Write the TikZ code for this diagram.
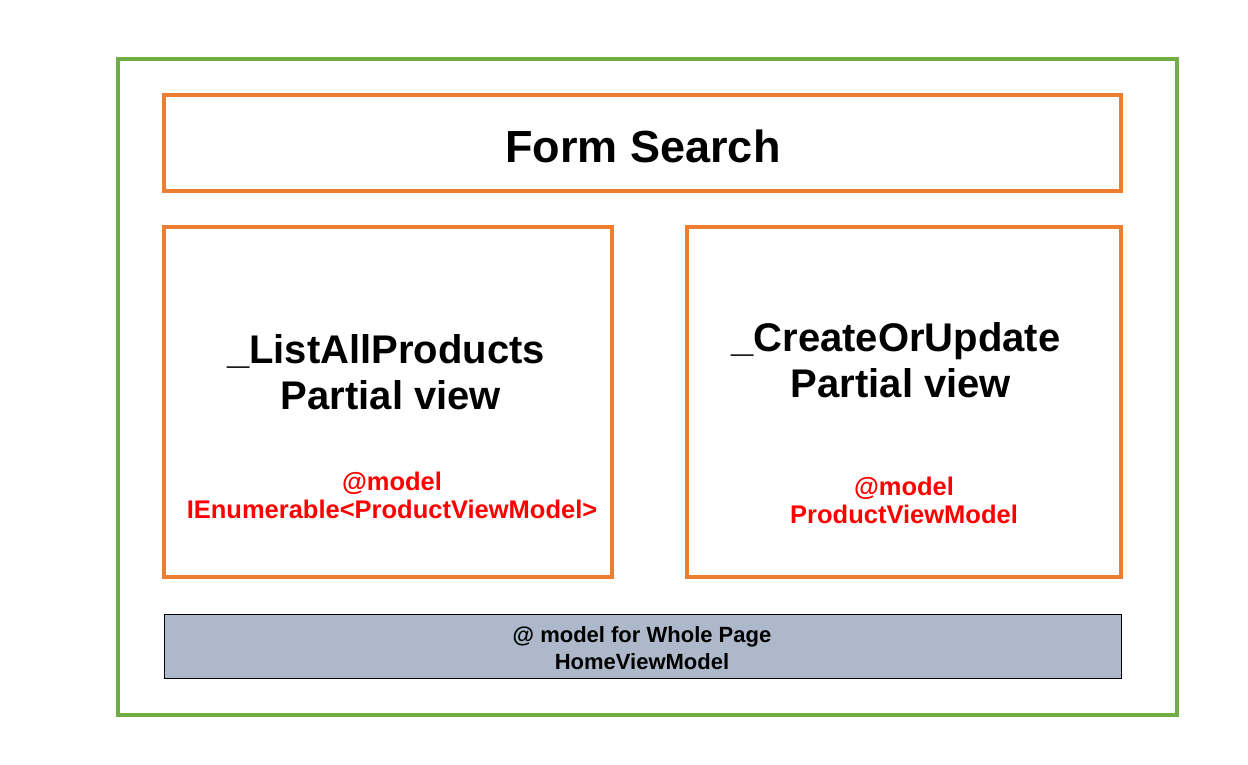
\documentclass[tikz,border=0pt]{standalone}
\usepackage{fontspec}
\setmainfont{Liberation Sans}
\definecolor{frameGreen}{RGB}{112,173,71}
\definecolor{boxOrange}{RGB}{237,125,49}
\definecolor{modelGray}{RGB}{173,185,202}
\definecolor{modelRed}{RGB}{255,0,0}
\tikzset{
  viewbox/.style={draw=boxOrange,line width=4},
  titletext/.style={inner sep=0,align=center,font=\bfseries\fontsize{40}{46}\selectfont},
  modeltext/.style={inner sep=0,align=center,text=modelRed,font=\bfseries\fontsize{25.5}{28}\selectfont},
}
\begin{document}
\begin{tikzpicture}[x=1pt,y=1pt,yscale=-1,xscale=1]
\useasboundingbox (0,0) rectangle (1248,764);

%Shape: Page frame
\draw [draw=frameGreen,line width=4] (118,59) rectangle (1177,715);
%Shape: Form search box
\draw [viewbox] (164,95) rectangle (1121,191);
%Shape: Left partial view
\draw [viewbox] (164,227) rectangle (612,577);
%Shape: Right partial view
\draw [viewbox] (687,227) rectangle (1121,577);
%Shape: Page model bar
\draw [fill=modelGray,draw=black,line width=1] (164,614) rectangle (1121,678);

% Text Node
\node (formsearch) [anchor=base,inner sep=0,font=\bfseries\fontsize{45}{50}\selectfont] at (643,162) {Form Search};
% Text Node
\node (listall) [titletext] at (386,372) {\_ListAllProducts\\ \hspace*{10pt}Partial view};
% Text Node
\node (createupd) [titletext] at (896,360) {\_CreateOrUpdate\\ \hspace*{10pt}Partial view};
% Text Node
\node (listmodel) [modeltext] at (392,495) {@model\\ IEnumerable<ProductViewModel>};
% Text Node
\node (createmodel) [modeltext] at (904,500) {@model\\ ProductViewModel};
% Text Node
\node (pagemodel) [inner sep=0,align=center,font=\bfseries\fontsize{22}{27}\selectfont] at (642,648) {@ model for Whole Page\\ HomeViewModel};

\end{tikzpicture}
\end{document}
